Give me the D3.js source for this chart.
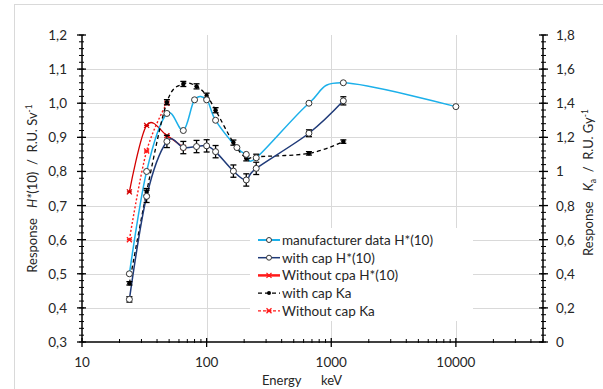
<!DOCTYPE html>
<html>
<head>
<meta charset="utf-8">
<script src="https://cdn.jsdelivr.net/npm/d3@7"></script>
<style>
  body { margin: 0; background: #fff; }
  svg { font-family: Lato, "Open Sans", sans-serif; }
  text { white-space: pre; }
</style>
</head>
<body>
<div id="chart"></div>
<script>
// manufacturer data H*(10)
const mfrEnergy = [24, 33, 48, 65, 80, 100, 118, 175, 208, 250, 662, 1250, 10000];
const mfrResp   = [0.50, 0.80, 0.97, 0.92, 1.01, 1.01, 0.95, 0.87, 0.85, 0.84, 1.00, 1.06, 0.99];

// with cap (H*(10) on left axis, Ka on right axis)
const capEnergy = [24, 33, 48, 65, 83, 100, 118, 164, 208, 250, 662, 1250];
const capH      = [0.425, 0.727, 0.888, 0.870, 0.873, 0.875, 0.858, 0.801, 0.775, 0.809, 0.912, 1.007];
const capHErr   = [0.008, 0.018, 0.018, 0.018, 0.018, 0.018, 0.018, 0.018, 0.018, 0.018, 0.010, 0.012];
const capKa     = [0.344, 0.880, 1.406, 1.513, 1.499, 1.444, 1.359, 1.169, 1.077, 1.086, 1.106, 1.175];
const capKaErr  = [0.010, 0.020, 0.015, 0.015, 0.015, 0.015, 0.015, 0.015, 0.015, 0.015, 0.010, 0.010];

// without cap
const noCapHEnergy  = [24, 33, 48, 65];
const noCapH        = [0.74, 0.935, 0.905, 0.87];
const noCapKaEnergy = [24, 33, 48];
const noCapKa       = [0.60, 1.12, 1.40];

const xTicks = [10, 100, 1000, 10000];
const leftTicks = [0.3, 0.4, 0.5, 0.6, 0.7, 0.8, 0.9, 1.0, 1.1, 1.2];
const rightTicks = [0, 0.2, 0.4, 0.6, 0.8, 1, 1.2, 1.4, 1.6, 1.8];

const W = 603, H = 389;
const plot = { left: 82, right: 543, top: 35, bottom: 342 };

const svg = d3.select("#chart").append("svg")
  .attr("width", W).attr("height", H);

svg.append("rect")
  .attr("x", 14.5).attr("y", 4.5).attr("width", 620).attr("height", 420)
  .attr("fill", "#fff").attr("stroke", "#d9d9d9");

const x = d3.scaleLog().domain([10, 50000]).range([plot.left, plot.right]);
const yL = d3.scaleLinear().domain([0.3, 1.2]).range([plot.bottom, plot.top]);
const yR = d3.scaleLinear().domain([0, 1.8]).range([plot.bottom, plot.top]);

const fmt = d3.format(".1f");
const comma = v => fmt(v).replace(".", ",");

// grid
const grid = svg.append("g").attr("stroke", "#d9d9d9").attr("stroke-width", 1);
grid.selectAll(".h").data(leftTicks.slice(1, -1)).join("line")
  .attr("x1", plot.left).attr("x2", plot.right)
  .attr("y1", d => Math.round(yL(d)) + 0.5).attr("y2", d => Math.round(yL(d)) + 0.5);
grid.selectAll(".v").data(xTicks.slice(1)).join("line")
  .attr("y1", plot.top).attr("y2", plot.bottom)
  .attr("x1", d => Math.round(x(d)) + 0.5).attr("x2", d => Math.round(x(d)) + 0.5);

// axes
const axes = svg.append("g").attr("stroke", "#000");
axes.append("line").attr("x1", plot.left).attr("x2", plot.left)
  .attr("y1", plot.top).attr("y2", plot.bottom).attr("stroke-width", 1.5);
axes.append("line").attr("x1", plot.right).attr("x2", plot.right)
  .attr("y1", plot.top).attr("y2", plot.bottom).attr("stroke-width", 1.5);
axes.append("line").attr("x1", plot.left).attr("x2", plot.right)
  .attr("y1", plot.bottom).attr("y2", plot.bottom).attr("stroke-width", 1.5);

// left ticks (major + 4 minor)
const leftMinor = d3.range(0, 46).map(i => 0.3 + i * 0.02);
axes.selectAll(".lm").data(leftMinor).join("line")
  .attr("x1", plot.left - 3).attr("x2", plot.left + 2)
  .attr("y1", d => yL(d)).attr("y2", d => yL(d)).attr("stroke-width", 1);
axes.selectAll(".lM").data(leftTicks).join("line")
  .attr("x1", plot.left - 5).attr("x2", plot.left + 4)
  .attr("y1", d => yL(d)).attr("y2", d => yL(d)).attr("stroke-width", 1.3);

const rightMinor = d3.range(0, 46).map(i => i * 0.04);
axes.selectAll(".rm").data(rightMinor).join("line")
  .attr("x1", plot.right - 2).attr("x2", plot.right + 3)
  .attr("y1", d => yR(d)).attr("y2", d => yR(d)).attr("stroke-width", 1);
axes.selectAll(".rM").data(rightTicks).join("line")
  .attr("x1", plot.right - 4).attr("x2", plot.right + 5)
  .attr("y1", d => yR(d)).attr("y2", d => yR(d)).attr("stroke-width", 1.3);

const xMinor = [];
[10, 100, 1000, 10000].forEach(dec => d3.range(2, 10).forEach(k => { if (dec * k <= 50000) xMinor.push(dec * k); }));
axes.selectAll(".xm").data(xMinor).join("line")
  .attr("x1", d => x(d)).attr("x2", d => x(d))
  .attr("y1", plot.bottom - 3).attr("y2", plot.bottom + 1).attr("stroke-width", 1);
axes.selectAll(".xM").data(xTicks).join("line")
  .attr("x1", d => x(d)).attr("x2", d => x(d))
  .attr("y1", plot.bottom - 4).attr("y2", plot.bottom + 5).attr("stroke-width", 1.3);

// tick labels
const labels = svg.append("g").attr("font-size", 13.5).attr("fill", "#262626");
labels.selectAll(".ll").data(leftTicks).join("text")
  .attr("x", 67).attr("y", d => yL(d) + 5).attr("text-anchor", "end").text(comma);
labels.selectAll(".rl").data(rightTicks).join("text")
  .attr("x", 556).attr("y", d => yR(d) + 5)
  .text(d => Number.isInteger(d) ? d : comma(d));
labels.selectAll(".xl").data(xTicks).join("text")
  .attr("x", d => x(d)).attr("y", 367).attr("text-anchor", "middle").text(d => d);

// axis titles
const titles = svg.append("g").attr("font-size", 13).attr("fill", "#262626");
const lt = titles.append("text")
  .attr("transform", `translate(37,${(plot.top + plot.bottom) / 2}) rotate(-90)`)
  .attr("text-anchor", "middle");
lt.append("tspan").text("Response   ");
lt.append("tspan").attr("font-style", "italic").text("H*");
lt.append("tspan").text("(10)  /  R.U. Sv");
lt.append("tspan").attr("font-size", 8.5).attr("dy", -5).text("-1");

const rt = titles.append("text")
  .attr("transform", `translate(593,${(plot.top + plot.bottom) / 2 - 6}) rotate(-90)`)
  .attr("text-anchor", "middle");
rt.append("tspan").text("Response   ");
rt.append("tspan").attr("font-style", "italic").text("K");
rt.append("tspan").attr("font-size", 8.5).attr("dy", 3).text("a");
rt.append("tspan").attr("dy", -3).text("  /  R.U. Gy");
rt.append("tspan").attr("font-size", 8.5).attr("dy", -5).text("-1");

titles.append("text").attr("x", 302).attr("y", 385).attr("text-anchor", "middle")
  .text("Energy      keV");

// series
const smooth = d3.line().curve(d3.curveCatmullRom.alpha(0));
const ptsL = (es, vs) => es.map((e, i) => [x(e), yL(vs[i])]);
const ptsR = (es, vs) => es.map((e, i) => [x(e), yR(vs[i])]);

const cLight = "#1cb0ea", cDark = "#1f3a78", cRed = "#d40000", cRed2 = "#ff1a1a";

const cross = (g, pts, color) => {
  g.selectAll(null).data(pts).join("path")
    .attr("d", d => `M${d[0] - 2.5},${d[1] - 2.5}L${d[0] + 2.5},${d[1] + 2.5}M${d[0] - 2.5},${d[1] + 2.5}L${d[0] + 2.5},${d[1] - 2.5}M${d[0] - 2.5},${d[1]}L${d[0] + 2.5},${d[1]}`)
    .attr("stroke", color).attr("stroke-width", 1.3).attr("fill", "none");
};

const series = svg.append("g");

// without cap Ka (red dotted, right axis)
const pRD = ptsR(noCapKaEnergy, noCapKa);
series.append("path").attr("d", smooth(pRD)).attr("fill", "none")
  .attr("stroke", cRed2).attr("stroke-width", 1.4).attr("stroke-dasharray", "2,2");
cross(series.append("g"), pRD, cRed2);

// without cpa H*(10) (red solid)
const pRS = ptsL(noCapHEnergy, noCapH);
series.append("path").attr("d", smooth(pRS)).attr("fill", "none")
  .attr("stroke", cRed).attr("stroke-width", 1.3);
cross(series.append("g"), pRS, cRed);

// manufacturer
const pM = ptsL(mfrEnergy, mfrResp);
series.append("path").attr("d", smooth(pM)).attr("fill", "none")
  .attr("stroke", cLight).attr("stroke-width", 1.5);

// with cap Ka (black dashed, right axis)
const pK = ptsR(capEnergy, capKa);
series.append("path").attr("d", smooth(pK)).attr("fill", "none")
  .attr("stroke", "#000").attr("stroke-width", 1.3).attr("stroke-dasharray", "4,3");

// with cap H*(10) (dark blue)
const pD = ptsL(capEnergy, capH);
series.append("path").attr("d", smooth(pD)).attr("fill", "none")
  .attr("stroke", cDark).attr("stroke-width", 1.5);

// error bars
const errBars = (g, es, vs, errs, y) => {
  const eb = g.selectAll(null).data(es.map((e, i) => ({ e, v: vs[i], s: errs[i] }))).join("g")
    .attr("stroke", "#000").attr("stroke-width", 1.3);
  eb.append("line").attr("x1", d => x(d.e)).attr("x2", d => x(d.e))
    .attr("y1", d => y(d.v - d.s)).attr("y2", d => y(d.v + d.s));
  eb.append("line").attr("x1", d => x(d.e) - 3).attr("x2", d => x(d.e) + 3)
    .attr("y1", d => y(d.v - d.s)).attr("y2", d => y(d.v - d.s));
  eb.append("line").attr("x1", d => x(d.e) - 3).attr("x2", d => x(d.e) + 3)
    .attr("y1", d => y(d.v + d.s)).attr("y2", d => y(d.v + d.s));
};
errBars(series.append("g"), capEnergy, capKa, capKaErr, yR);
errBars(series.append("g"), capEnergy, capH, capHErr, yL);

// markers
series.append("g").selectAll("circle").data(pK).join("circle")
  .attr("cx", d => d[0]).attr("cy", d => d[1]).attr("r", 2.2).attr("fill", "#000");
series.append("g").selectAll("circle").data(pD).join("circle")
  .attr("cx", d => d[0]).attr("cy", d => d[1]).attr("r", 3)
  .attr("fill", "#fff").attr("stroke", "#333").attr("stroke-width", 1);
series.append("g").selectAll("circle").data(pM).join("circle")
  .attr("cx", d => d[0]).attr("cy", d => d[1]).attr("r", 3)
  .attr("fill", "#fff").attr("stroke", "#333").attr("stroke-width", 1);

// legend
const legendItems = [
  { label: "manufacturer data H*(10)", color: cLight, dash: null, marker: "circle", width: 2 },
  { label: "with cap H*(10)", color: cDark, dash: null, marker: "circle", width: 1.5 },
  { label: "Without cpa H*(10)", color: cRed2, dash: null, marker: "cross", width: 2.5 },
  { label: "with cap Ka", color: "#000", dash: "4,3", marker: "dot", width: 1.3 },
  { label: "Without cap Ka", color: cRed2, dash: "3,2", marker: "cross", width: 1.3 }
];
const legend = svg.append("g");
legend.append("rect").attr("x", 250).attr("y", 228).attr("width", 223).attr("height", 93).attr("fill", "#fff");
const li = legend.selectAll(".li").data(legendItems).join("g")
  .attr("transform", (d, i) => `translate(0,${240 + i * 17.7})`);
li.append("line").attr("x1", 258).attr("x2", 280).attr("y1", 0).attr("y2", 0)
  .attr("stroke", d => d.color).attr("stroke-width", d => d.width)
  .attr("stroke-dasharray", d => d.dash);
li.filter(d => d.marker === "circle").append("circle")
  .attr("cx", 269).attr("cy", 0).attr("r", 2.5).attr("fill", "#fff").attr("stroke", "#333");
li.filter(d => d.marker === "dot").append("circle")
  .attr("cx", 269).attr("cy", 0).attr("r", 2).attr("fill", "#000");
li.filter(d => d.marker === "cross").each(function(d) { cross(d3.select(this), [[269, 0]], d.color); });
li.append("text").attr("x", 282).attr("y", 5).attr("font-size", 13.5).attr("fill", "#262626")
  .text(d => d.label);
</script>
</body>
</html>
